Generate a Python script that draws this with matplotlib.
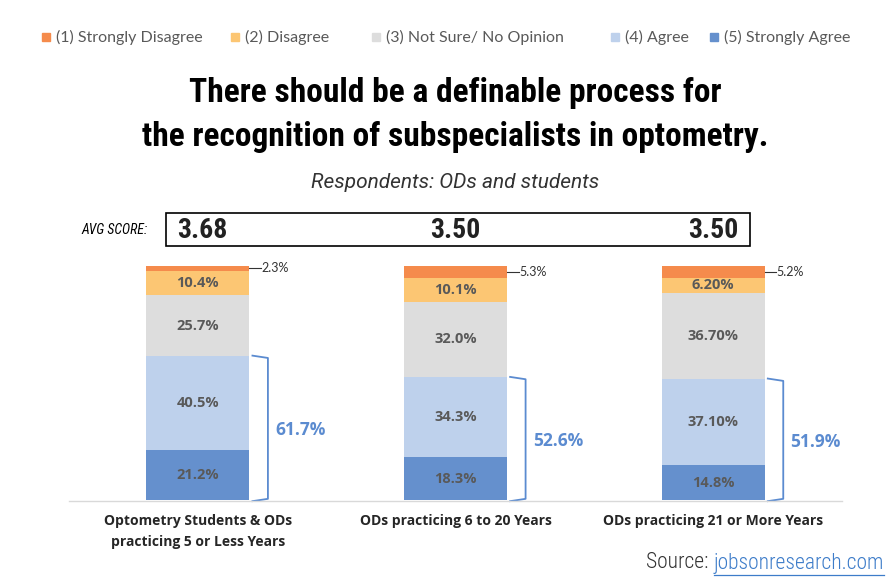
import matplotlib
matplotlib.use('Agg')
import matplotlib.pyplot as plt
from matplotlib.patches import Rectangle
from matplotlib import font_manager

# données
groups = ['Optometry Students & ODs\npracticing 5 or Less Years',
          'ODs practicing 6 to 20 Years',
          'ODs practicing 21 or More Years']
strongly_disagree = [2.3, 5.3, 5.2]
disagree = [10.4, 10.1, 6.2]
not_sure = [25.7, 32.0, 36.7]
agree = [40.5, 34.3, 37.1]
strongly_agree = [21.2, 18.3, 14.8]
disagree_labels = ['10.4%', '10.1%', '6.20%']
not_sure_labels = ['25.7%', '32.0%', '36.70%']
agree_labels = ['40.5%', '34.3%', '37.10%']
strongly_agree_labels = ['21.2%', '18.3%', '14.8%']
top_labels = ['2.3%', '5.3%', '5.2%']
agree_totals = ['61.7%', '52.6%', '51.9%']
avg_scores = ['3.68', '3.50', '3.50']
legend_names = ['(1) Strongly Disagree', '(2) Disagree', '(3) Not Sure/ No Opinion',
                '(4) Agree', '(5) Strongly Agree']

colors = ['#F58B4C', '#FCC673', '#DDDDDD', '#BED1EC', '#6590CD']
blue_txt = '#5B8BD0'
grey_txt = '#595959'

fams = {f.name for f in font_manager.fontManager.ttflist}
body = 'Open Sans' if 'Open Sans' in fams else 'DejaVu Sans'
leg_font = 'Lato' if 'Lato' in fams else body
cond = 'Roboto'
for c in ['Roboto Condensed', 'Liberation Sans Narrow', 'Open Sans Condensed']:
    if c in fams:
        cond = c
        break

W, H = 892, 579
fig = plt.figure(figsize=(W / 100, H / 100), dpi=100)

def fx(px):
    return px / W

def fy(py):
    return 1 - py / H

# axes des barres : base à y=500, 100% à y=266
ax = fig.add_axes([fx(69), fy(500), fx(842) - fx(69), fy(266) - fy(500)])
x = [0, 1, 2]
bw = 0.40
series = [strongly_agree, agree, not_sure, disagree, strongly_disagree]
bottom = [0, 0, 0]
for vals, col in zip(series, colors[::-1]):
    ax.bar(x, vals, bw, bottom=bottom, color=col, edgecolor='none')
    bottom = [b + v for b, v in zip(bottom, vals)]
ax.set_xlim(-0.5, 2.5)
ax.set_ylim(0, 100)
ax.axis('off')

for i in x:
    b0 = strongly_agree[i]
    b1 = b0 + agree[i]
    b2 = b1 + not_sure[i]
    b3 = b2 + disagree[i]
    b4 = b3 + strongly_disagree[i]
    kw = dict(ha='center', va='center', color=grey_txt, fontsize=10.5,
              fontweight='bold', family=body)
    ax.text(i, b0 / 2, strongly_agree_labels[i], **kw)
    ax.text(i, (b0 + b1) / 2, agree_labels[i], **kw)
    ax.text(i, (b1 + b2) / 2, not_sure_labels[i], **kw)
    ax.text(i, (b2 + b3) / 2, disagree_labels[i], **kw)
    # étiquette du haut avec trait
    ym = (b3 + b4) / 2
    ax.plot([i + bw / 2, i + bw / 2 + 0.045], [ym, ym], color='#333333', lw=0.8,
            clip_on=False)
    ax.text(i + bw / 2 + 0.047, ym, top_labels[i], ha='left', va='center',
            fontsize=9, color='#333333', family=leg_font)
    # accolade
    xa = i + bw / 2 + 0.012
    xb = i + bw / 2 + 0.072
    ax.plot([xa, xb, xb, xa], [b1, b1 - 1, 0.5, -0.5], color=blue_txt, lw=1.3,
            clip_on=False)
    ax.text(i + 0.30, b1 / 2 - 1, agree_totals[i], ha='left', va='center',
            color=blue_txt, fontsize=12.5, fontweight='bold', family=body)
    ax.text(i, -6, groups[i], ha='center', va='top', fontsize=10,
            fontweight='bold', color='#262626', family=body, linespacing=1.65)

ax.plot([-0.5, 2.5], [-0.3, -0.3], color='#D9D9D9', lw=1, clip_on=False)

# légende
marker_x = [46, 235, 376, 615, 714]
for mx, name, col in zip(marker_x, legend_names, colors):
    fig.patches.append(Rectangle((fx(mx - 4), fy(41)), fx(8), fy(33) - fy(41),
                                 transform=fig.transFigure, color=col))
    fig.text(fx(mx + 10), fy(37), name, ha='left', va='center', fontsize=11.5,
             color=grey_txt, family=leg_font)

# titre
fig.text(fx(455), fy(93), 'There should be a definable process for',
         ha='center', va='center', fontsize=24, fontweight='black',
         family=cond, color='black')
fig.text(fx(455), fy(137), 'the recognition of subspecialists in optometry.',
         ha='center', va='center', fontsize=24, fontweight='black',
         family=cond, color='black')
fig.text(fx(455), fy(183), 'Respondents: ODs and students', ha='center',
         va='center', fontsize=15, style='italic', color='#333333',
         family='Roboto')

# score moyen
fig.text(fx(148), fy(230), 'AVG SCORE:', ha='right', va='center', fontsize=10,
         style='italic', family=cond, color='black')
fig.patches.append(Rectangle((fx(166), fy(246)), fx(750) - fx(166), fy(213) - fy(246),
                             transform=fig.transFigure, fill=False,
                             edgecolor='black', lw=1.2))
fig.text(fx(177), fy(231), avg_scores[0], ha='left', va='center', fontsize=20,
         fontweight='bold', family=cond, color='#222222')
fig.text(fx(455), fy(231), avg_scores[1], ha='center', va='center', fontsize=20,
         fontweight='bold', family=cond, color='#222222')
fig.text(fx(738), fy(231), avg_scores[2], ha='right', va='center', fontsize=20,
         fontweight='bold', family=cond, color='#222222')

# source
t = fig.text(fx(884), fy(563), 'jobsonresearch.com', ha='right', va='center',
             fontsize=15.5, color='#3D7CC9', family=cond, fontweight='light')
fig.canvas.draw()
bb = t.get_window_extent()
fig.text(bb.x0 / W, fy(563), 'Source: ', ha='right', va='center', fontsize=15.5,
         color='#333333', family=cond, fontweight='light')
fig.lines.append(plt.Line2D([bb.x0 / W, bb.x1 / W], [fy(575), fy(575)],
                            transform=fig.transFigure, color='#3D7CC9', lw=0.9))

fig.savefig('out.png', dpi=100)
